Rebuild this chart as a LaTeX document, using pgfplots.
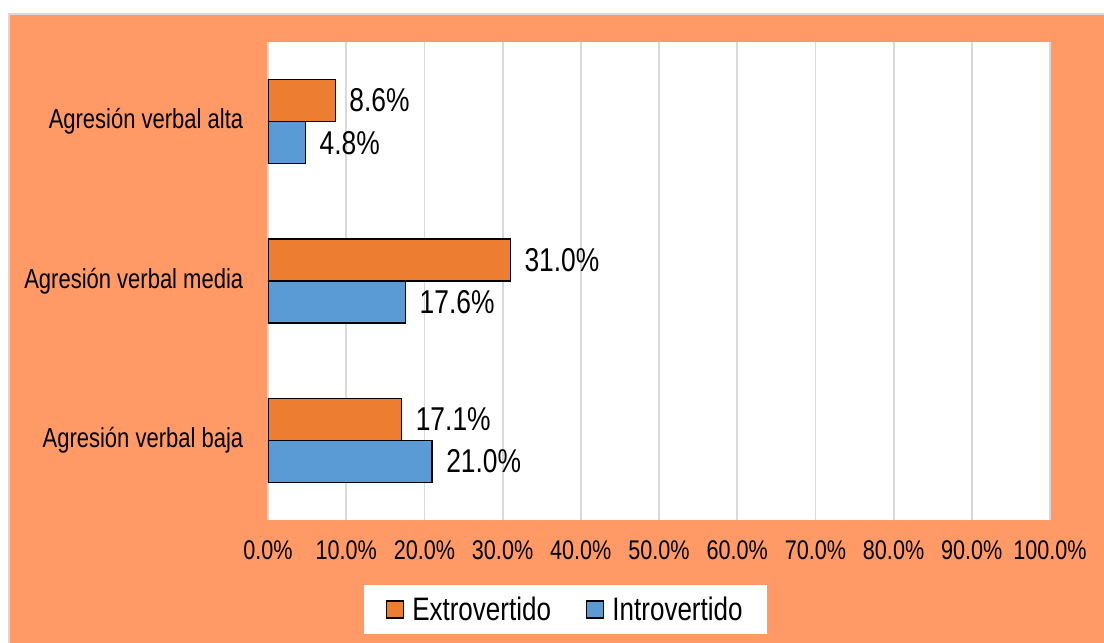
\documentclass[border=0pt]{standalone}
\usepackage{fontspec}
\setmainfont[FakeStretch=0.8]{Liberation Sans}
\usepackage{pgfplots}
\pgfplotsset{compat=1.18}
\definecolor{fondo}{HTML}{FF9966}
\definecolor{naranja}{HTML}{ED7D31}
\definecolor{azul}{HTML}{5B9BD5}
\definecolor{rejilla}{HTML}{D9D9D9}
\begin{document}
\begin{tikzpicture}[x=1pt,y=1pt]
\useasboundingbox (0,0) rectangle (1104,643);
\fill[white] (0,0) rectangle (1104,643);
\filldraw[fill=fondo, draw=rejilla, line width=1.5pt] (9,-5) rectangle (1110,629);
\begin{axis}[
  at={(268pt,123pt)}, anchor=south west,
  scale only axis, width=782pt, height=478pt,
  xbar, bar width=0.264,
  xmin=0, xmax=100, ymin=-0.5, ymax=2.5,
  xtick={0,10,...,100}, ytick={0,1,2},
  yticklabels={Agresión verbal baja, Agresión verbal media, Agresión verbal alta},
  xticklabel={\pgfmathprintnumber[fixed,fixed zerofill,precision=1]{\tick}\%},
  /pgf/number format/assume math mode=true,
  axis background/.style={fill=white},
  axis line style={draw=none},
  xmajorgrids, major grid style={rejilla, line width=1.8pt},
  tick style={draw=none},
  xticklabel style={font=\fontsize{27}{32}\selectfont, yshift=-17pt},
  yticklabel style={font=\fontsize{27.5}{32}\selectfont, xshift=-17pt},
  nodes near coords={\pgfmathprintnumber[fixed,fixed zerofill,precision=1]{\pgfplotspointmeta}\%},
  nodes near coords style={font=\fontsize{33}{39}\selectfont, text=black, xshift=10pt},
  legend style={at={(0.38,-0.188)}, anchor=center, legend columns=2, fill=white, draw=none,
    font=\fontsize{32.5}{38}\selectfont, inner xsep=22pt, inner ysep=10pt,
    /tikz/every even column/.append style={column sep=33pt}},
  legend image code/.code={\draw[#1, line width=1.5pt] (0pt,-8pt) rectangle (17pt,9pt); \path (23pt,0pt);},
]
\addplot[fill=naranja, draw=black, line width=1.5pt, bar shift=0.132]
  coordinates {(17.1,0) (31.0,1) (8.6,2)};
\addlegendentry{Extrovertido}
\addplot[fill=azul, draw=black, line width=1.5pt, bar shift=-0.132]
  coordinates {(21.0,0) (17.6,1) (4.8,2)};
\addlegendentry{Introvertido}
\end{axis}
\end{tikzpicture}
\end{document}
